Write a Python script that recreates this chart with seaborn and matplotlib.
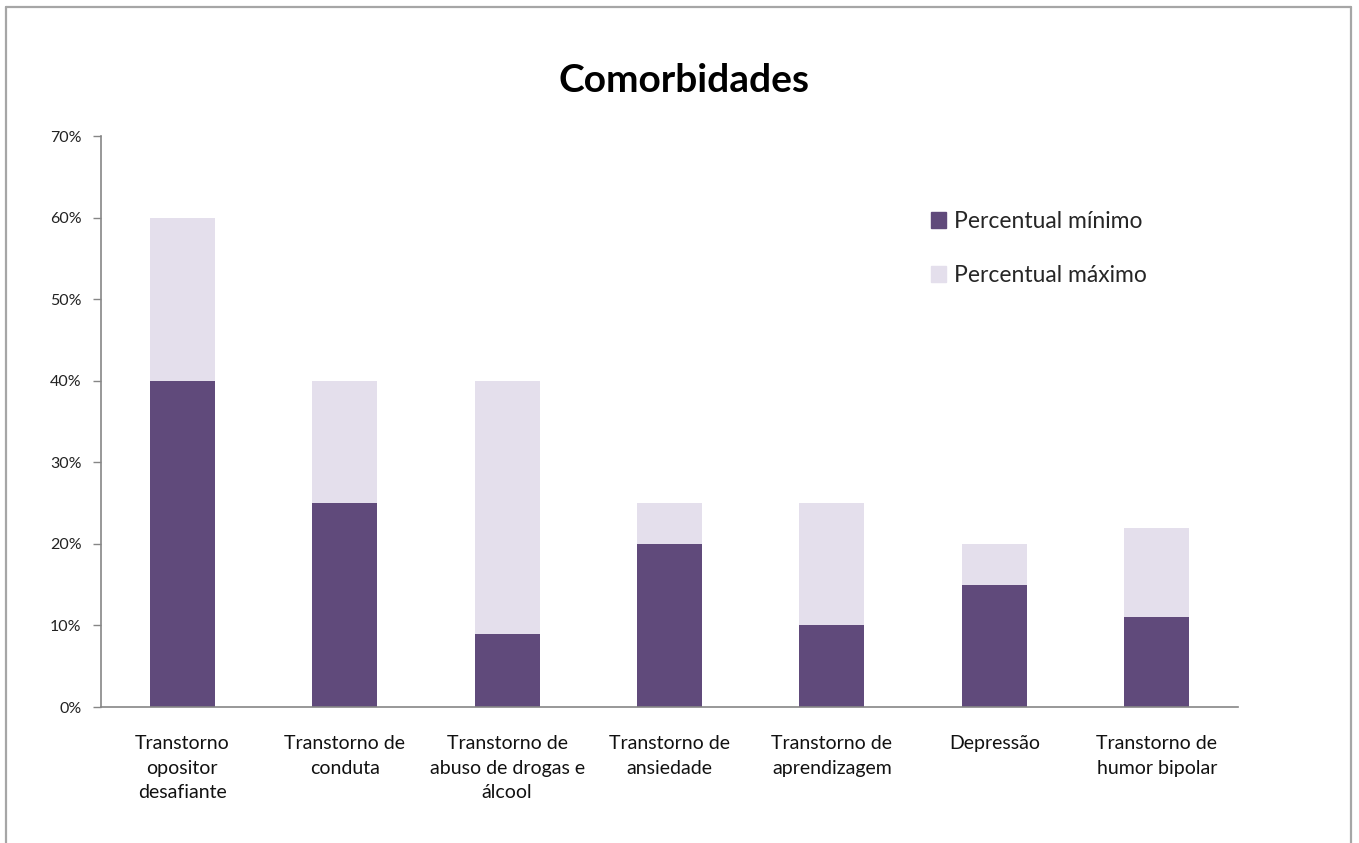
import pandas as pd
import numpy as np
import matplotlib.pyplot as plt
import seaborn as sns
from matplotlib.lines import Line2D
from matplotlib.patches import Patch

# data
categorias = ["Transtorno\nopositor\ndesafiante", "Transtorno de\nconduta",
              "Transtorno de\nabuso de drogas e\nálcool", "Transtorno de\nansiedade",
              "Transtorno de\naprendizagem", "Depressão", "Transtorno de\nhumor bipolar"]
perc_minimo = [40, 25, 9, 20, 10, 15, 11]
perc_maximo = [60, 40, 40, 25, 25, 20, 22]

cor_min = "#604A7B"
cor_max = "#E4DFEC"

df = pd.DataFrame({"categoria": categorias, "minimo": perc_minimo, "maximo": perc_maximo})

sns.set_style("white")
plt.rcParams["font.family"] = ["Lato", "DejaVu Sans"]

fig = plt.figure(figsize=(13.59, 8.43), dpi=100)
ax = fig.add_axes([0.0743, 0.1613, 0.8367, 0.6773])

# max drawn first, min on top of it
sns.barplot(data=df, x="categoria", y="maximo", color=cor_max, width=0.4,
            saturation=1, linewidth=0, ax=ax)
sns.barplot(data=df, x="categoria", y="minimo", color=cor_min, width=0.4,
            saturation=1, linewidth=0, ax=ax)

ax.set_ylim(0, 70)
ax.set_xlim(-0.5, len(categorias) - 0.5)
ax.set_yticks(range(0, 71, 10))
ax.set_yticklabels([f"{v}%" for v in range(0, 71, 10)], fontsize=11.5, color="#222222")
ax.set_xticks(range(len(categorias)))
ax.set_xticklabels(categorias, fontsize=14, color="#111111", linespacing=1.55)
ax.set_xticks(np.arange(-0.5, len(categorias), 1), minor=True)
ax.tick_params(axis="x", which="major", length=0, pad=20)
ax.tick_params(axis="x", which="minor", length=6, width=1, color="#868686", direction="out")
ax.tick_params(axis="y", length=6, width=1, color="#868686", direction="out", left=True, pad=8)
ax.set_xlabel("")
ax.set_ylabel("")

for s in ["top", "right"]:
    ax.spines[s].set_visible(False)
for s in ["left", "bottom"]:
    ax.spines[s].set_color("#868686")
    ax.spines[s].set_linewidth(1.2)

fig.suptitle("Comorbidades", fontsize=28, fontweight="bold", x=0.503, y=0.925, color="#000000")

handles = [Patch(color=cor_min), Patch(color=cor_max)]
ax.legend(handles, ["Percentual mínimo", "Percentual máximo"], loc="upper left",
          bbox_to_anchor=(0.712, 0.905), frameon=False, fontsize=16.5,
          handlelength=0.65, handleheight=0.65, handletextpad=0.35, labelspacing=1.45)

# outer frame (left, top, right; bottom cut off)
fc = "#A6A6A6"
fig.add_artist(Line2D([6 / 1359, 6 / 1359], [0, 1 - 7 / 843], color=fc, lw=1.6,
                      transform=fig.transFigure))
fig.add_artist(Line2D([6 / 1359, 1351 / 1359], [1 - 7 / 843, 1 - 7 / 843], color=fc, lw=1.6,
                      transform=fig.transFigure))
fig.add_artist(Line2D([1351 / 1359, 1351 / 1359], [0, 1 - 7 / 843], color=fc, lw=1.6,
                      transform=fig.transFigure))

plt.savefig("out.png", dpi=100)
